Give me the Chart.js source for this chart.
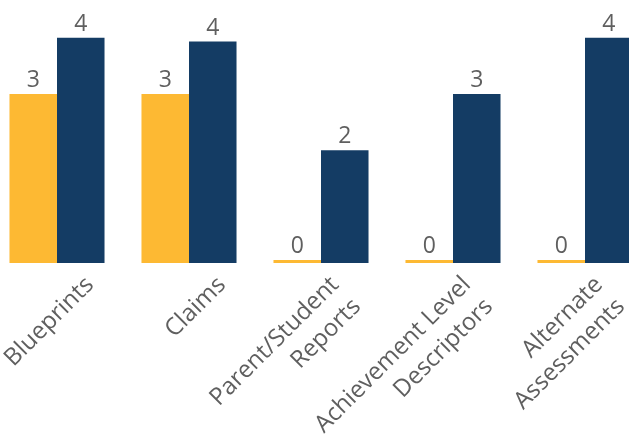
<!DOCTYPE html>
<html>
<head>
<meta charset="utf-8">
<script src="https://cdn.jsdelivr.net/npm/chart.js@4.4.0/dist/chart.umd.min.js"></script>
<style>
html, body { margin: 0; padding: 0; background: #fff; overflow: hidden; }
#wrap { position: absolute; left: -9px; top: 0; width: 660px; height: 438px; }
</style>
</head>
<body>
<div id="wrap"><canvas id="chart"></canvas></div>
<script>
const categories = [
    'Blueprints',
    'Claims',
    ['Parent/Student', 'Reports'],
    ['Achievement Level', 'Descriptors'],
    ['Alternate', 'Assessments']
];
const yellowValues = [3, 3, 0, 0, 0];
const navyValues = [4, 3.93, 2, 3, 4];

const textColor = '#5f5f5f';

// draws the number above each bar (no datalabels plugin available offline)
const valueLabels = {
    id: 'valueLabels',
    afterDatasetsDraw(chart) {
        const ctx = chart.ctx;
        ctx.save();
        ctx.font = '23px "Open Sans"';
        ctx.fillStyle = textColor;
        ctx.textAlign = 'center';
        ctx.textBaseline = 'alphabetic';
        chart.data.datasets.forEach((ds, i) => {
            chart.getDatasetMeta(i).data.forEach((bar, j) => {
                ctx.fillText(Math.round(ds.data[j]), bar.x, bar.y - 7);
            });
        });
        ctx.restore();
    }
};

// rotated category labels, placed like Excel does it (one-line labels sit further right)
const categoryLabels = {
    id: 'categoryLabels',
    afterDraw(chart) {
        const scale = chart.scales.x;
        const ctx = chart.ctx;
        ctx.save();
        ctx.font = '24px "Open Sans"';
        ctx.fillStyle = textColor;
        ctx.textAlign = 'right';
        ctx.textBaseline = 'middle';
        scale.ticks.forEach((t, i) => {
            const lines = [].concat(chart.data.labels[i]);
            const x = scale.getPixelForTick(i) + (lines.length > 1 ? 14 : 33);
            const y = scale.top + 18;
            ctx.save();
            ctx.translate(x, y);
            ctx.rotate(-Math.PI / 4);
            lines.forEach((line, k) => ctx.fillText(line, 0, k * 31));
            ctx.restore();
        });
        ctx.restore();
    }
};

const ctx = document.getElementById('chart').getContext('2d');
new Chart(ctx, {
    type: 'bar',
    data: {
        labels: categories,
        datasets: [
            {
                label: 'Series 1',
                data: yellowValues,
                backgroundColor: '#FDB933',
                minBarLength: 3
            },
            {
                label: 'Series 2',
                data: navyValues,
                backgroundColor: '#143C64'
            }
        ]
    },
    options: {
        responsive: true,
        maintainAspectRatio: false,
        animation: false,
        layout: { padding: { top: 9.5 } },
        datasets: {
            bar: { categoryPercentage: 0.72, barPercentage: 1.0 }
        },
        plugins: {
            legend: { display: false },
            tooltip: { enabled: false }
        },
        scales: {
            x: {
                grid: { display: false, drawTicks: false },
                border: { display: false },
                ticks: { display: false, autoSkip: false },
                afterFit(scale) {
                    scale.height = 175;
                    scale.paddingLeft = 0;
                    scale.paddingRight = 0;
                }
            },
            y: { display: false, min: 0, max: 4.5 }
        }
    },
    plugins: [valueLabels, categoryLabels]
});
</script>
</body>
</html>
